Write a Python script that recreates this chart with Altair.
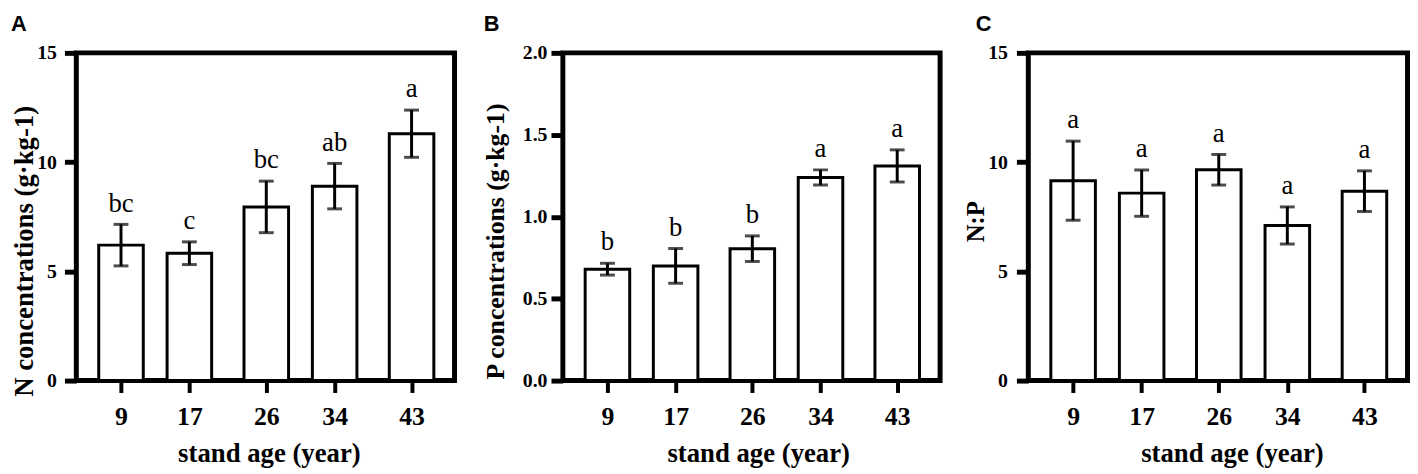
import altair as alt
import pandas as pd

ages = [9, 17, 26, 34, 43]

n_mean = [6.2, 5.83, 7.95, 8.9, 11.3]
n_err = [0.95, 0.52, 1.18, 1.04, 1.08]
n_letters = ["bc", "c", "bc", "ab", "a"]

p_mean = [0.68, 0.70, 0.805, 1.24, 1.31]
p_err = [0.036, 0.106, 0.078, 0.046, 0.098]
p_letters = ["b", "b", "b", "a", "a"]

np_mean = [9.15, 8.58, 9.65, 7.1, 8.67]
np_err = [1.81, 1.06, 0.7, 0.85, 0.93]
np_letters = ["a", "a", "a", "a", "a"]

SERIF = "Liberation Serif"
SANS = "Liberation Sans"


def make_df(mean, err, letters):
    return pd.DataFrame({
        "age": ages,
        "mean": mean,
        "lo": [m - e for m, e in zip(mean, err)],
        "hi": [m + e for m, e in zip(mean, err)],
        "letter": letters,
    })


def panel(df, label, ytitle, ymax, ystep, yfmt, width, label_dx,
          ytitle_x, ytitle_y, ytitle_fs, ylabel_pad, xtitle_shift):
    xscale = alt.Scale(domain=[4.35, 47.45], nice=False, zero=False)
    yscale = alt.Scale(domain=[0, ymax], nice=False)
    xaxis = alt.Axis(
        values=ages, title="stand age (year)", grid=False, domain=False,
        tickSize=12, tickWidth=4, tickColor="black",
        labelFont=SERIF, labelFontSize=26, labelFontWeight="bold",
        labelColor="black", labelPadding=11, labelFlush=False,
        titleFont=SERIF, titleFontSize=27, titleFontWeight="bold",
        titleColor="black", titleBaseline="alphabetic", titleY=82,
        titleX=width / 2 + xtitle_shift, titleAlign="center",
    )
    yvals = [round(i * ystep, 3) for i in range(int(round(ymax / ystep)) + 1)]
    yaxis = alt.Axis(
        values=yvals, format=yfmt, title=ytitle, grid=False, domain=False,
        tickSize=12, tickWidth=5, tickColor="black",
        labelFont=SERIF, labelFontSize=20, labelFontWeight="bold",
        labelColor="black", labelPadding=ylabel_pad,
        titleFont=SERIF, titleFontSize=ytitle_fs, titleFontWeight="bold",
        titleColor="black", titleBaseline="alphabetic", titleAngle=-90,
        titleAlign="center", titleX=ytitle_x, titleY=ytitle_y,
    )
    base = alt.Chart(df)
    bars = base.mark_bar(fill="white", stroke="black", strokeWidth=3,
                         size=45).encode(
        x=alt.X("age:Q", scale=xscale, axis=xaxis),
        y=alt.Y("mean:Q", scale=yscale, axis=yaxis),
    )
    rule = base.mark_rule(color="black", strokeWidth=3).encode(
        x="age:Q", y="lo:Q", y2="hi:Q")
    cap_hi = base.mark_tick(color="black", orient="horizontal", size=15,
                            thickness=3).encode(x="age:Q", y="hi:Q")
    cap_lo = base.mark_tick(color="black", orient="horizontal", size=15,
                            thickness=3).encode(x="age:Q", y="lo:Q")
    text = base.mark_text(font=SERIF, fontSize=27, baseline="alphabetic",
                          dy=-13, color="black").encode(
        x="age:Q", y="hi:Q", text="letter:N")
    return alt.layer(bars, rule, cap_hi, cap_lo, text).properties(
        width=width, height=331,
        title=alt.TitleParams(
            label, anchor="start", frame="group", font=SANS, fontSize=22,
            fontWeight="bold", color="black", baseline="alphabetic",
            dx=label_dx, offset=-10,
        ),
    )


pa = panel(make_df(n_mean, n_err, n_letters), "A", "N concentrations (g·kg-1)",
           15, 5, "d", 382, -66, -44.4, 200, 27, 8, 3.5)
pb = panel(make_df(p_mean, p_err, p_letters), "B", "P concentrations (g·kg-1)",
           2.0, 0.5, ".1f", 381, -80, -60, 190, 26, 4, 6.8)
pc = panel(make_df(np_mean, np_err, np_letters), "C", "N:P",
           15, 5, "d", 383, -53, -45, 170, 25, 9, 14.2)

chart = alt.hconcat(
    pa, alt.hconcat(pb, pc, spacing=18.1), spacing=22.4
).properties(padding=0, background="white").configure_view(
    stroke="black", strokeWidth=5, fill="white"
)

chart.save("out.html", embed_options={"renderer": "svg", "actions": False})
